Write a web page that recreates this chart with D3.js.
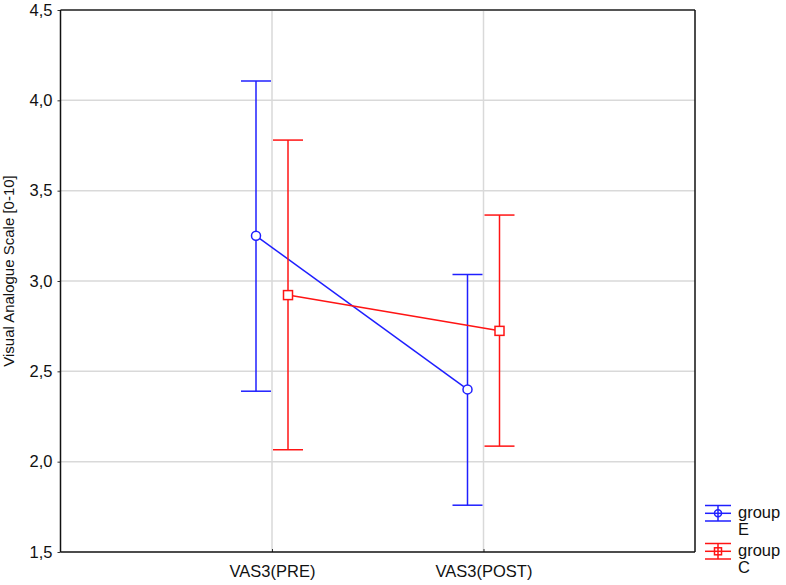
<!DOCTYPE html>
<html>
<head>
<meta charset="utf-8">
<script src="https://cdn.jsdelivr.net/npm/d3@7"></script>
<style>
  body { margin: 0; background: #fff; }
  text { font-family: "Liberation Sans", Arial, sans-serif; fill: #111; }
</style>
</head>
<body>
<svg id="chart" width="786" height="585"></svg>
<script>
// data
var categories = ["VAS3(PRE)", "VAS3(POST)"];
var groups = ["E", "C"];
var colors = ["#1f1fff", "#ff1414"];
var meansE = [3.25, 2.40];
var upperE = [4.107, 3.036];
var lowerE = [2.39, 1.759];
var meansC = [2.922, 2.724];
var upperC = [3.78, 3.365];
var lowerC = [2.066, 2.086];
var yTicks = [1.5, 2.0, 2.5, 3.0, 3.5, 4.0, 4.5];

var margin = {top: 10, right: 91, bottom: 33, left: 60.5},
    width = 786 - margin.left - margin.right,
    height = 585 - margin.top - margin.bottom;

var svg = d3.select("#chart");
var g = svg.append("g")
    .attr("transform", "translate(" + margin.left + "," + margin.top + ")");

var xScale = d3.scalePoint()
    .domain(categories)
    .range([0, width])
    .padding(1);

var yScale = d3.scaleLinear()
    .domain([1.5, 4.5])
    .range([height, 0]);

var fmt = function(d) { return d3.format(".1f")(d).replace(".", ","); };

// grid
g.selectAll(".hgrid")
    .data(yTicks.filter(function(d) { return d > 1.5 && d < 4.5; }))
    .enter().append("line")
    .attr("x1", 0).attr("x2", width)
    .attr("y1", function(d) { return yScale(d); })
    .attr("y2", function(d) { return yScale(d); })
    .attr("stroke", "#d9d9d9").attr("stroke-width", 1.5);

g.selectAll(".vgrid")
    .data(categories)
    .enter().append("line")
    .attr("x1", function(d) { return xScale(d); })
    .attr("x2", function(d) { return xScale(d); })
    .attr("y1", 0).attr("y2", height)
    .attr("stroke", "#d9d9d9").attr("stroke-width", 1.5);

// axes
var yAxis = d3.axisLeft(yScale).tickValues(yTicks).tickFormat(fmt).tickSize(3).tickPadding(5);
var yG = g.append("g").call(yAxis);
yG.select(".domain").remove();
yG.selectAll("line").attr("stroke", "#333");
yG.selectAll("text").style("font-size", "16.5px").style("font-family", "Liberation Sans, Arial, sans-serif").attr("fill", "#111");

var xAxis = d3.axisBottom(xScale).tickSize(-3).tickPadding(13);
var xG = g.append("g").attr("transform", "translate(0," + height + ")").call(xAxis);
xG.select(".domain").remove();
xG.selectAll("line").attr("stroke", "#333");
xG.selectAll("text").style("font-size", "16.5px").style("font-family", "Liberation Sans, Arial, sans-serif").attr("fill", "#111");

// frame
g.append("line").attr("x1", 0).attr("x2", width).attr("y1", 0).attr("y2", 0)
    .attr("stroke", "#555").attr("stroke-width", 2);
g.append("line").attr("x1", 0).attr("x2", width).attr("y1", height).attr("y2", height)
    .attr("stroke", "#111").attr("stroke-width", 1.5);
g.append("line").attr("x1", 0).attr("x2", 0).attr("y1", 0).attr("y2", height)
    .attr("stroke", "#111").attr("stroke-width", 1.5);
g.append("line").attr("x1", width).attr("x2", width).attr("y1", 0).attr("y2", height)
    .attr("stroke", "#111").attr("stroke-width", 1.5);

// y title
svg.append("text")
    .attr("transform", "translate(14," + (margin.top + height / 2 - 10) + ") rotate(-90)")
    .attr("text-anchor", "middle")
    .style("font-size", "15px")
    .text("Visual Analogue Scale [0-10]");

// series
var series = [
    {name: groups[0], color: colors[0], mean: meansE, up: upperE, lo: lowerE, offset: -16, shape: "circle"},
    {name: groups[1], color: colors[1], mean: meansC, up: upperC, lo: lowerC, offset: 16, shape: "square"}
];

var capW = 15;
series.forEach(function(s) {
    var pts = categories.map(function(c, i) {
        return {x: xScale(c) + s.offset, m: s.mean[i], u: s.up[i], l: s.lo[i]};
    });

    var line = d3.line()
        .x(function(d) { return d.x; })
        .y(function(d) { return yScale(d.m); });

    g.append("path").datum(pts)
        .attr("d", line)
        .attr("fill", "none")
        .attr("stroke", s.color)
        .attr("stroke-width", 1.5);

    var eb = g.selectAll(".eb" + s.name).data(pts).enter().append("g");
    eb.append("line")
        .attr("x1", function(d) { return d.x; }).attr("x2", function(d) { return d.x; })
        .attr("y1", function(d) { return yScale(d.u); }).attr("y2", function(d) { return yScale(d.l); })
        .attr("stroke", s.color).attr("stroke-width", 1.5);
    [ "u", "l" ].forEach(function(k) {
        eb.append("line")
            .attr("x1", function(d) { return d.x - capW; }).attr("x2", function(d) { return d.x + capW; })
            .attr("y1", function(d) { return yScale(d[k]); }).attr("y2", function(d) { return yScale(d[k]); })
            .attr("stroke", s.color).attr("stroke-width", 1.5);
    });

    if (s.shape == "circle") {
        eb.append("circle")
            .attr("cx", function(d) { return d.x; })
            .attr("cy", function(d) { return yScale(d.m); })
            .attr("r", 4.5)
            .attr("fill", "#fff").attr("stroke", s.color).attr("stroke-width", 1.5);
    } else {
        eb.append("rect")
            .attr("x", function(d) { return d.x - 4.5; })
            .attr("y", function(d) { return yScale(d.m) - 4.5; })
            .attr("width", 9).attr("height", 9)
            .attr("fill", "#fff").attr("stroke", s.color).attr("stroke-width", 1.5);
    }
});

// legend
var legend = svg.append("g").attr("transform", "translate(705,505)");
series.forEach(function(s, i) {
    var lg = legend.append("g").attr("transform", "translate(0," + (i * 38) + ")");
    lg.append("line").attr("x1", 0).attr("x2", 26).attr("y1", 0.5).attr("y2", 0.5)
        .attr("stroke", s.color).attr("stroke-width", 1.5);
    lg.append("line").attr("x1", 0).attr("x2", 26).attr("y1", 16).attr("y2", 16)
        .attr("stroke", s.color).attr("stroke-width", 1.5);
    lg.append("line").attr("x1", 0).attr("x2", 26).attr("y1", 8.3).attr("y2", 8.3)
        .attr("stroke", s.color).attr("stroke-width", 1.5);
    lg.append("line").attr("x1", 13).attr("x2", 13).attr("y1", 0.5).attr("y2", 16)
        .attr("stroke", s.color).attr("stroke-width", 1.5);
    if (s.shape == "circle") {
        lg.append("circle").attr("cx", 13).attr("cy", 8.3).attr("r", 3.5)
            .attr("fill", "none").attr("stroke", s.color).attr("stroke-width", 1.5);
    } else {
        lg.append("rect").attr("x", 9.5).attr("y", 4.8).attr("width", 7).attr("height", 7)
            .attr("fill", "none").attr("stroke", s.color).attr("stroke-width", 1.5);
    }
    lg.append("text").attr("x", 33).attr("y", 13).style("font-size", "16.5px").text("group");
    lg.append("text").attr("x", 33).attr("y", 30).style("font-size", "16.5px").text(s.name);
});
</script>
</body>
</html>
